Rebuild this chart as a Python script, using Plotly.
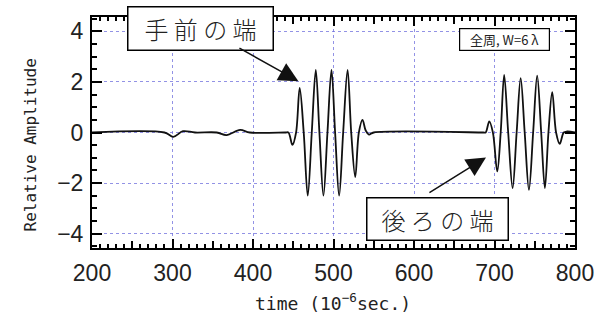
import plotly.graph_objects as go

# Received waveform: extrema and zero crossings (time in microseconds)
time_us = [200, 290, 301, 313, 328, 355, 367, 384, 396, 440,
           444, 449, 453.5, 458, 463, 468, 473, 478, 482.5, 487.5,
           492.5, 497.5, 502, 507, 512, 517.5, 522, 527, 531.5, 536,
           540, 544, 550, 686,
           689, 693.5, 698, 703.4, 707.7, 712, 717, 722.5, 727.5, 732.5,
           737.5, 742.8, 748, 753, 758, 762.6, 767, 771.7, 776.5, 781,
           786, 790, 800]
amplitude = [0, 0, -0.17, 0.05, 0, 0, -0.1, 0.1, 0, 0,
             0, -0.49, 0, 1.76, 0, -2.5, 0, 2.48, 0, -2.5,
             0, 2.48, 0, -2.5, 0, 2.48, 0, -1.76, 0, 0.5,
             0.08, -0.08, 0, 0,
             0, 0.44, 0, -1.54, 0, 2.28, 0, -2.2, 0, 2.15,
             0, -2.27, 0, 2.25, 0, -2.2, 0, 1.6, 0, -0.45,
             0, 0.04, 0]

x_ticks = [200, 300, 400, 500, 600, 700, 800]
y_ticks = [-4, -2, 0, 2, 4]

W, H = 594, 320
ML, MR, MT, MB = 92, 19, 17, 72
PW, PH = W - ML - MR, H - MT - MB

num_font = dict(family="Liberation Sans Narrow, Arial Narrow, Liberation Sans, sans-serif",
                size=23, color="#222222")
mono_font = dict(family="DejaVu Sans Mono, monospace", size=16, color="#222222")
jp_font = dict(family="Noto Sans CJK JP", size=24, color="#222222", weight=300)
grid_col = "rgba(110,110,220,0.75)"

fig = go.Figure()
fig.add_trace(go.Scatter(x=time_us, y=amplitude, mode="lines",
                         line=dict(color="#111111", width=1.8, shape="spline", smoothing=1.0),
                         hoverinfo="skip", showlegend=False))
# empty trace so the auxiliary 50-us tick axis is drawn
fig.add_trace(go.Scatter(x=[], y=[], xaxis="x2", showlegend=False, hoverinfo="skip"))

fig.update_layout(
    width=W, height=H,
    margin=dict(l=ML, r=MR, t=MT, b=MB),
    paper_bgcolor="white", plot_bgcolor="white",
    xaxis=dict(range=[200, 800], tickvals=x_ticks, ticks="inside", ticklen=9,
               tickwidth=1.5, tickcolor="black", showline=True, linewidth=2,
               linecolor="black", mirror="ticks", showgrid=True, gridcolor=grid_col,
               griddash="dot", gridwidth=1, zeroline=False, tickfont=num_font,
               ticklabelstandoff=3, ticklabeloverflow="allow", automargin=False,
               minor=dict(ticks="inside", ticklen=4, dtick=10, tick0=200,
                          tickwidth=1.5, tickcolor="black", showgrid=False)),
    xaxis2=dict(range=[200, 800], overlaying="x", anchor="y", side="bottom",
                tick0=200, dtick=50, ticks="inside", ticklen=7, tickwidth=1.5,
                tickcolor="black", showticklabels=False, showgrid=False,
                zeroline=False, mirror="ticks", showline=False, automargin=False),
    yaxis=dict(range=[-4.57, 4.57], tickvals=y_ticks, ticks="inside", ticklen=10,
               tickwidth=1.5, tickcolor="black", showline=True, linewidth=2,
               linecolor="black", mirror="ticks", showgrid=True, gridcolor=grid_col,
               griddash="dot", gridwidth=1, zeroline=False, tickfont=num_font,
               ticklabelstandoff=2, ticklabeloverflow="allow", automargin=False,
               minor=dict(ticks="inside", ticklen=5, dtick=0.5, tick0=0,
                          tickwidth=1.5, tickcolor="black", showgrid=False)),
)

annotations = [
    # axis titles
    dict(text="Relative Amplitude", xref="paper", yref="paper",
         x=(30 - ML) / PW, y=(H - MB - 144.5) / PH, xanchor="center", yanchor="middle",
         textangle=-90, showarrow=False, font=mono_font),
    dict(text="time (10<sup>−6</sup>sec.)", xref="paper", yref="paper",
         x=(333 - ML) / PW, y=(H - MB - 302) / PH, xanchor="center", yanchor="middle",
         showarrow=False,
         font=dict(family="DejaVu Sans Mono, monospace", size=18, color="#222222")),
    # labelled boxes
    dict(text="手 前 の 端", x=334.8, y=4.10, xref="x", yref="y", showarrow=False,
         bgcolor="white", bordercolor="black", borderwidth=1.5, borderpad=0,
         width=144, height=42, font=jp_font),
    dict(text="後 ろ の 端", x=629.1, y=-3.41, xref="x", yref="y", showarrow=False,
         bgcolor="white", bordercolor="black", borderwidth=1.5, borderpad=0,
         width=140, height=41, font=jp_font),
    dict(text="全周, W=6 λ", x=713, y=3.68, xref="x", yref="y", showarrow=False,
         bgcolor="white", bordercolor="black", borderwidth=1.2, borderpad=0,
         width=89, height=21,
         font=dict(family="Noto Sans CJK JP", size=13, color="#222222")),
    # arrows
    dict(text="", x=456.4, y=2.03, ax=381.3, ay=3.37, xref="x", yref="y",
         axref="x", ayref="y", showarrow=True, arrowhead=2, arrowsize=2.6,
         arrowwidth=1.5, arrowcolor="#111111"),
    dict(text="", x=689.4, y=-0.99, ax=617.3, ay=-2.42, xref="x", yref="y",
         axref="x", ayref="y", showarrow=True, arrowhead=2, arrowsize=2.6,
         arrowwidth=1.5, arrowcolor="#111111"),
]
fig.update_layout(annotations=annotations)

fig.write_html("out.html")
